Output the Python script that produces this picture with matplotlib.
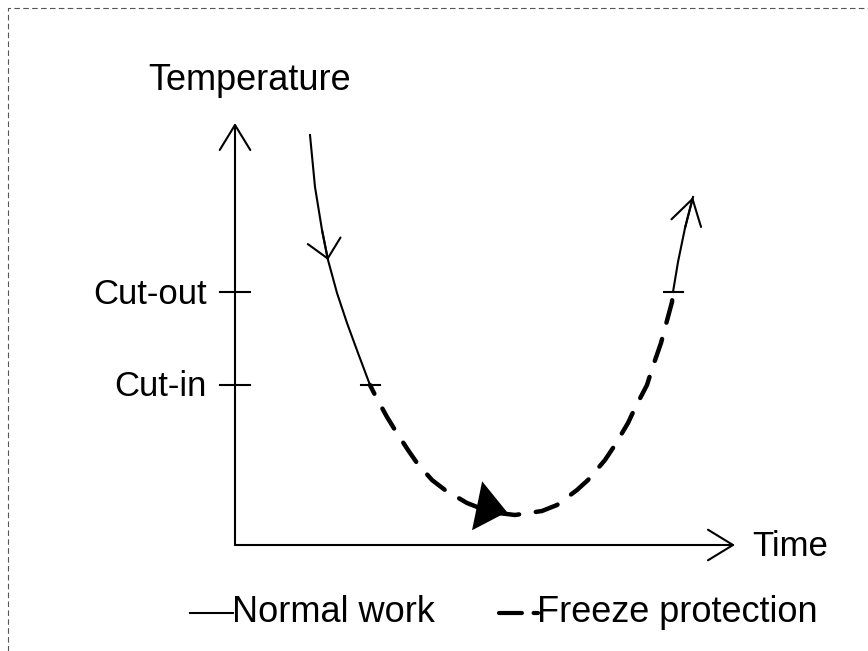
import matplotlib
matplotlib.use("Agg")
import matplotlib.pyplot as plt

# ---- schematic data (pixel space of the original drawing) ----
normal_x = [310, 315, 322, 328, 337, 347, 358, 370]
normal_y = [135, 187, 230, 260, 293, 323, 353, 385]

freeze_x = [370, 375, 387, 395, 408, 417, 432, 445, 467, 490, 515, 542, 557, 577, 588,
            605, 615, 628, 635, 647, 652, 661, 665, 672, 673]
freeze_y = [385, 395, 417, 430, 450, 463, 480, 490, 503, 512, 515, 511, 505, 490, 480,
            460, 445, 423, 408, 385, 369, 343, 328, 302, 292]

rise_x = [673, 678, 685, 693]
rise_y = [292, 262, 228, 197]

tick_labels = ["Cut-out", "Cut-in"]
tick_y = [292, 385]
switch_x = [370, 673]
switch_y = [385, 292]

axis_origin = (235, 545)
axis_top = 123
axis_right = 735

plt.rcParams["font.family"] = ["Liberation Sans", "DejaVu Sans"]

fig = plt.figure(figsize=(8.68, 6.51), dpi=100)
ax = fig.add_axes([0, 0, 1, 1])
ax.set_xlim(0, 868)
ax.set_ylim(651, 0)
ax.axis("off")

# dashed frame
ax.plot([8, 8, 868], [651, 8, 8], color="#555555", lw=0.8, ls=(0, (5, 3)))

# axes with open arrowheads
ox, oy = axis_origin
arr = dict(arrowstyle="->,head_length=0.9,head_width=0.55", lw=1.5, color="black",
           shrinkA=0, shrinkB=0, mutation_scale=20)
ax.annotate("", xy=(ox, axis_top), xytext=(ox, oy), arrowprops=arr)
ax.annotate("", xy=(axis_right, oy), xytext=(ox, oy), arrowprops=arr)

ax.text(148, 80, "Temperature", fontsize=26, ha="left", va="center")
ax.text(752, 547, "Time", fontsize=25, ha="left", va="center")
for lab, ty in zip(tick_labels, tick_y):
    ax.plot([ox - 15, ox + 15], [ty, ty], color="black", lw=1.5)
    ax.text(207, ty + 2, lab, fontsize=25, ha="right", va="center")

# curve
ax.plot(normal_x, normal_y, color="black", lw=1.5, solid_joinstyle="round")
ax.plot(freeze_x, freeze_y, color="black", lw=3.2, ls=(3, (5.2, 3.8)),
        dash_capstyle="round", dash_joinstyle="round")
ax.plot(rise_x, rise_y, color="black", lw=1.5)
ax.annotate("", xy=(rise_x[-1], rise_y[-1]), xytext=(rise_x[-2], rise_y[-2]), arrowprops=arr)

# switch points
for sx, sy in zip(switch_x, switch_y):
    ax.plot([sx - 9, sx + 10], [sy, sy], color="black", lw=1.5)

# direction markers
ax.annotate("", xy=(normal_x[3], normal_y[3]), xytext=(normal_x[2], normal_y[2]),
            arrowprops=dict(arrowstyle="->,head_length=0.65,head_width=0.6", lw=1.5,
                            color="black", shrinkA=0, shrinkB=0, mutation_scale=20))
ax.annotate("", xy=(507, 512), xytext=(478, 506),
            arrowprops=dict(arrowstyle="-|>,head_length=1.1,head_width=0.9", lw=0,
                            color="black", shrinkA=0, shrinkB=0, mutation_scale=20))

# legend
ax.plot([190, 233], [613, 613], color="black", lw=1.5)
ax.text(232, 613, "Normal work", fontsize=26, ha="left", va="center")
ax.plot([499, 538], [613, 613], color="black", lw=3.0, ls=(0, (5.5, 2.8)), dash_capstyle="round")
ax.text(537, 613, "Freeze protection", fontsize=26, ha="left", va="center")

fig.savefig("out.png", dpi=100)
